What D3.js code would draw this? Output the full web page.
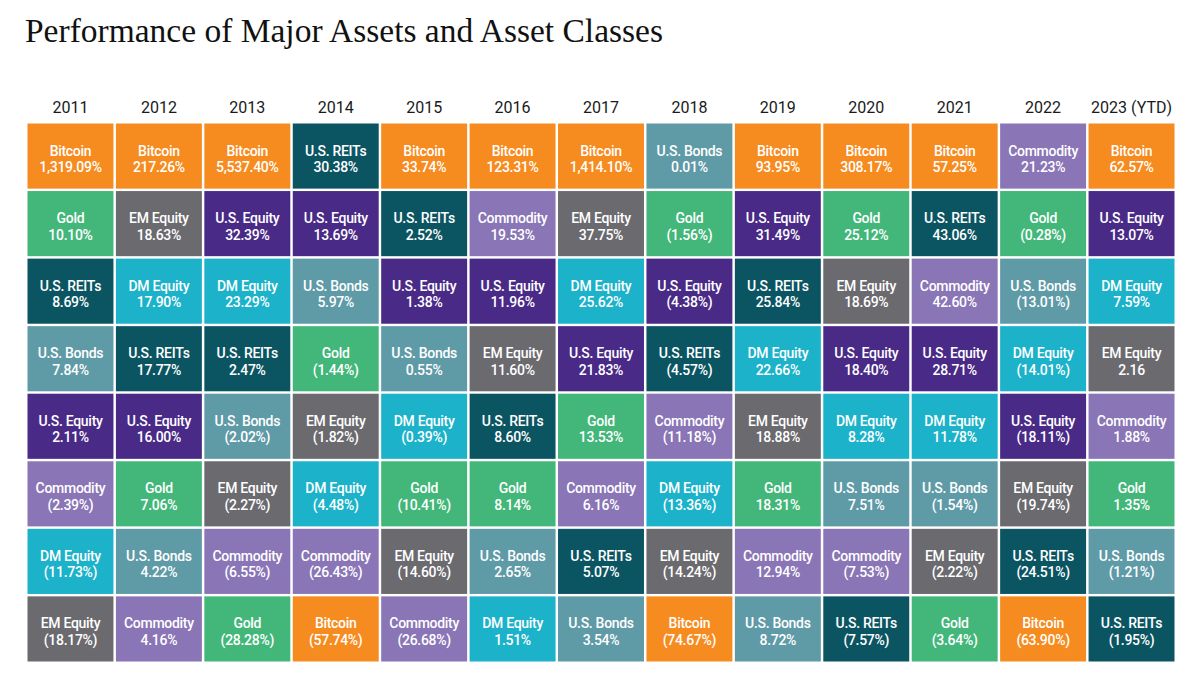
<!DOCTYPE html>
<html>
<head>
<meta charset="utf-8">
<script src="https://cdn.jsdelivr.net/npm/d3@7"></script>
<style>
  html, body { margin: 0; padding: 0; background: #fff; }
  svg { display: block; }
</style>
</head>
<body>
<svg id="chart" width="1200" height="696"></svg>
<script>
// ── data: years, assets ranked best → worst per year, printed returns ──
const years = ['2011', '2012', '2013', '2014', '2015', '2016', '2017',
               '2018', '2019', '2020', '2021', '2022', '2023 (YTD)'];

const rankedAssets = [
  ['Bitcoin', 'Gold', 'U.S. REITs', 'U.S. Bonds', 'U.S. Equity', 'Commodity', 'DM Equity', 'EM Equity'],
  ['Bitcoin', 'EM Equity', 'DM Equity', 'U.S. REITs', 'U.S. Equity', 'Gold', 'U.S. Bonds', 'Commodity'],
  ['Bitcoin', 'U.S. Equity', 'DM Equity', 'U.S. REITs', 'U.S. Bonds', 'EM Equity', 'Commodity', 'Gold'],
  ['U.S. REITs', 'U.S. Equity', 'U.S. Bonds', 'Gold', 'EM Equity', 'DM Equity', 'Commodity', 'Bitcoin'],
  ['Bitcoin', 'U.S. REITs', 'U.S. Equity', 'U.S. Bonds', 'DM Equity', 'Gold', 'EM Equity', 'Commodity'],
  ['Bitcoin', 'Commodity', 'U.S. Equity', 'EM Equity', 'U.S. REITs', 'Gold', 'U.S. Bonds', 'DM Equity'],
  ['Bitcoin', 'EM Equity', 'DM Equity', 'U.S. Equity', 'Gold', 'Commodity', 'U.S. REITs', 'U.S. Bonds'],
  ['U.S. Bonds', 'Gold', 'U.S. Equity', 'U.S. REITs', 'Commodity', 'DM Equity', 'EM Equity', 'Bitcoin'],
  ['Bitcoin', 'U.S. Equity', 'U.S. REITs', 'DM Equity', 'EM Equity', 'Gold', 'Commodity', 'U.S. Bonds'],
  ['Bitcoin', 'Gold', 'EM Equity', 'U.S. Equity', 'DM Equity', 'U.S. Bonds', 'Commodity', 'U.S. REITs'],
  ['Bitcoin', 'U.S. REITs', 'Commodity', 'U.S. Equity', 'DM Equity', 'U.S. Bonds', 'EM Equity', 'Gold'],
  ['Commodity', 'Gold', 'U.S. Bonds', 'DM Equity', 'U.S. Equity', 'EM Equity', 'U.S. REITs', 'Bitcoin'],
  ['Bitcoin', 'U.S. Equity', 'DM Equity', 'EM Equity', 'Commodity', 'Gold', 'U.S. Bonds', 'U.S. REITs']
];

const returnLabels = [
  ['1,319.09%', '10.10%', '8.69%', '7.84%', '2.11%', '(2.39%)', '(11.73%)', '(18.17%)'],
  ['217.26%', '18.63%', '17.90%', '17.77%', '16.00%', '7.06%', '4.22%', '4.16%'],
  ['5,537.40%', '32.39%', '23.29%', '2.47%', '(2.02%)', '(2.27%)', '(6.55%)', '(28.28%)'],
  ['30.38%', '13.69%', '5.97%', '(1.44%)', '(1.82%)', '(4.48%)', '(26.43%)', '(57.74%)'],
  ['33.74%', '2.52%', '1.38%', '0.55%', '(0.39%)', '(10.41%)', '(14.60%)', '(26.68%)'],
  ['123.31%', '19.53%', '11.96%', '11.60%', '8.60%', '8.14%', '2.65%', '1.51%'],
  ['1,414.10%', '37.75%', '25.62%', '21.83%', '13.53%', '6.16%', '5.07%', '3.54%'],
  ['0.01%', '(1.56%)', '(4.38%)', '(4.57%)', '(11.18%)', '(13.36%)', '(14.24%)', '(74.67%)'],
  ['93.95%', '31.49%', '25.84%', '22.66%', '18.88%', '18.31%', '12.94%', '8.72%'],
  ['308.17%', '25.12%', '18.69%', '18.40%', '8.28%', '7.51%', '(7.53%)', '(7.57%)'],
  ['57.25%', '43.06%', '42.60%', '28.71%', '11.78%', '(1.54%)', '(2.22%)', '(3.64%)'],
  ['21.23%', '(0.28%)', '(13.01%)', '(14.01%)', '(18.11%)', '(19.74%)', '(24.51%)', '(63.90%)'],
  ['62.57%', '13.07%', '7.59%', '2.16', '1.88%', '1.35%', '(1.21%)', '(1.95%)']
];

const assetNames  = ['Bitcoin', 'Gold', 'U.S. REITs', 'U.S. Bonds', 'U.S. Equity', 'EM Equity', 'DM Equity', 'Commodity'];
const assetColors = ['#f68b1f', '#43b77a', '#0b5563', '#5f9aa7', '#4a2a87', '#6b6a6f', '#1cb2c9', '#8a75b6'];

// flatten into one record per cell
const cells = [];
years.forEach((yr, i) => {
  rankedAssets[i].forEach((asset, r) => {
    cells.push({ year: yr, rank: r, asset, label: returnLabels[i][r] });
  });
});

const svg = d3.select('#chart');
const FONT = 'Roboto, "Liberation Sans", Arial, sans-serif';

const x = d3.scaleBand().domain(years).range([27.5, 1174.5]).paddingInner(0.028);
const y = d3.scaleBand().domain(d3.range(8)).range([123.5, 661.5]).paddingInner(0.036);
const color = d3.scaleOrdinal().domain(assetNames).range(assetColors);

// title
svg.append('text')
  .attr('x', 25).attr('y', 42)
  .attr('font-family', '"Liberation Serif", "DejaVu Serif", serif')
  .attr('font-size', 33)
  .attr('fill', '#111')
  .attr('textLength', 638)
  .attr('lengthAdjust', 'spacingAndGlyphs')
  .text('Performance of Major Assets and Asset Classes');

// year headers (top axis, no line/ticks)
const axis = svg.append('g')
  .attr('transform', 'translate(0,117)')
  .call(d3.axisTop(x).tickSize(0).tickPadding(4));
axis.select('.domain').remove();
axis.selectAll('text')
  .attr('font-family', FONT)
  .attr('font-size', 16)
  .attr('fill', '#1a1a1a');

// cells
const cell = svg.append('g').selectAll('g').data(cells).join('g')
  .attr('transform', d => `translate(${x(d.year)},${y(d.rank)})`);

cell.append('rect')
  .attr('width', x.bandwidth())
  .attr('height', y.bandwidth())
  .attr('fill', d => color(d.asset));

const cy = y.bandwidth() / 2;
cell.append('text')
  .attr('x', x.bandwidth() / 2)
  .attr('y', cy - 0.5)
  .attr('text-anchor', 'middle')
  .attr('font-family', FONT)
  .attr('font-weight', 500)
  .attr('font-size', 14)
  .attr('letter-spacing', '-0.3px')
  .attr('fill', '#fff')
  .text(d => d.asset);

cell.append('text')
  .attr('x', x.bandwidth() / 2)
  .attr('y', cy + 16)
  .attr('text-anchor', 'middle')
  .attr('font-family', FONT)
  .attr('font-weight', 500)
  .attr('font-size', 14)
  .attr('letter-spacing', '-0.3px')
  .attr('fill', '#fff')
  .text(d => d.label);
</script>
</body>
</html>
